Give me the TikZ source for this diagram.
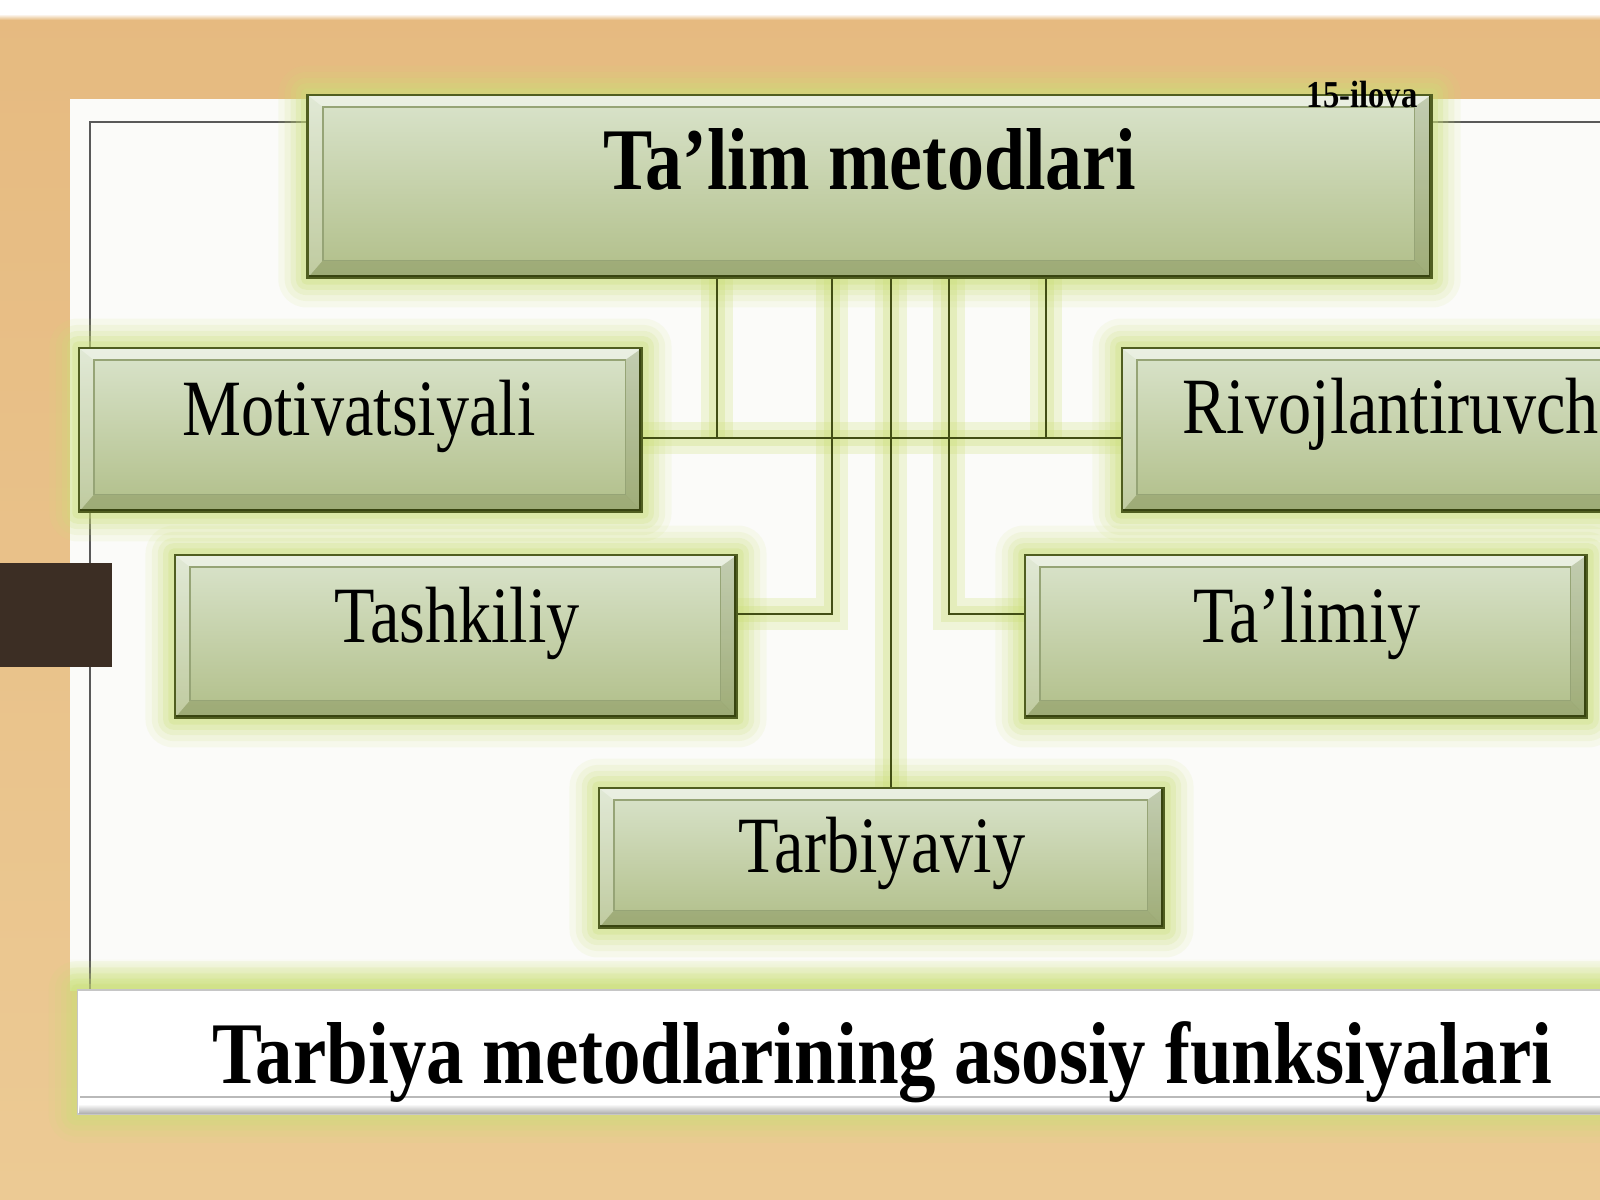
\documentclass[tikz,border=0pt]{standalone}
\usepackage{graphicx}
\usepackage{fontspec}
\setmainfont{Liberation Serif}
\usetikzlibrary{calc}
\pgfdeclarelayer{bgl}
\pgfdeclarelayer{glowl}
\pgfdeclarelayer{linel}
\pgfsetlayers{bgl,glowl,linel,main}
\definecolor{woodA}{RGB}{230,186,128}
\definecolor{woodB}{RGB}{236,202,148}
\definecolor{glowc}{RGB}{204,224,120}
\definecolor{boxtop}{RGB}{218,228,204}
\definecolor{boxbot}{RGB}{176,190,136}
\definecolor{boxedge}{RGB}{80,94,32}
\definecolor{boxdark}{RGB}{56,68,16}
\definecolor{conncol}{RGB}{66,78,20}
\definecolor{bevelc}{RGB}{150,164,118}
\definecolor{brownblk}{RGB}{60,46,36}
\definecolor{panelc}{RGB}{251,251,249}
\newcommand\myglow[1]{%
  \foreach \dd/\oo in {8/0.1,6.2/0.13,4.5/0.17,3/0.22,1.5/0.28}{%
    \fill[glowc, opacity=\oo, rounded corners=\dd pt]
      ([shift={(-\dd pt,-\dd pt)}]#1.south west) rectangle ([shift={(\dd pt,\dd pt)}]#1.north east);}}
\tikzset{
  bevelpic/.style={path picture={
    \coordinate (pNW) at (path picture bounding box.north west);
    \coordinate (pSE) at (path picture bounding box.south east);
    \coordinate (pNE) at (path picture bounding box.north east);
    \coordinate (pSW) at (path picture bounding box.south west);
    \coordinate (iNW) at ([shift={(4.3pt,-3.4pt)}]pNW);
    \coordinate (iNE) at ([shift={(-4.8pt,-3.4pt)}]pNE);
    \coordinate (iSE) at ([shift={(-4.8pt,5pt)}]pSE);
    \coordinate (iSW) at ([shift={(4.3pt,5pt)}]pSW);
    \fill[white,opacity=0.45] (pNW) -- (pNE) -- (iNE) -- (iNW) -- cycle;
    \fill[white,opacity=0.2] (pNW) -- (iNW) -- (iSW) -- (pSW) -- cycle;
    \fill[boxdark,opacity=0.16] (pSW) -- (iSW) -- (iSE) -- (pSE) -- cycle;
    \fill[boxdark,opacity=0.14] (pNE) -- (pSE) -- (iSE) -- (iNE) -- cycle;
    \draw[bevelc, line width=0.4pt] (iNW) rectangle (iSE);
    \draw[boxdark, line width=1.6pt] (pNE) -- (pSE) -- (pSW);
  }},
  mbox/.style={shade, top color=boxtop, bottom color=boxbot, draw=boxedge,
    line width=0.7pt, inner sep=0pt, bevelpic},
  txt/.style={inner sep=0pt, font=\fontsize{22.7}{26}\selectfont},
  btxt/.style={inner sep=0pt, font=\fontsize{25}{29}\selectfont\bfseries},
  conn/.style={draw=conncol, line width=0.55pt},
  connglow/.style={draw=glowc, line width=9pt, opacity=0.25},
  connglowb/.style={draw=glowc, line width=4.5pt, opacity=0.3},
}
\begin{document}
\begin{tikzpicture}[x=0.01cm,y=-0.01cm]
\path[use as bounding box] (0,0) rectangle (1600,1200);
\clip (0,0) rectangle (1600,1200);
% nodes (boxes)
\node[mbox, minimum width=11.23cm, minimum height=1.83cm] (title) at (869.5,186.5) {};
\node[mbox, minimum width=5.63cm, minimum height=1.64cm] (mot) at (360.5,430) {};
\node[mbox, minimum width=5.63cm, minimum height=1.64cm] (riv) at (1403.5,430) {};
\node[mbox, minimum width=5.62cm, minimum height=1.63cm] (tash) at (456,636.5) {};
\node[mbox, minimum width=5.62cm, minimum height=1.63cm] (tal) at (1306,636.5) {};
\node[mbox, minimum width=5.65cm, minimum height=1.40cm] (tarb) at (881.5,858) {};
% texts
\node[btxt, anchor=base] (titleT) at (869.5,189) {\scalebox{0.84}[1]{Ta’lim metodlari}};
\node[txt, anchor=base] (motT) at (359,435) {\scalebox{0.83}[1]{Motivatsiyali}};
\node[txt, anchor=base west] (rivT) at (1182,433) {\scalebox{0.83}[1]{Rivojlantiruvch}};
\node[txt, anchor=base] (tashT) at (457,642) {\scalebox{0.83}[1]{Tashkiliy}};
\node[txt, anchor=base] (talT) at (1307,642) {\scalebox{0.83}[1]{Ta’limiy}};
\node[txt, anchor=base] (tarbT) at (882,872) {\scalebox{0.83}[1]{Tarbiyaviy}};
\node[inner sep=0pt, anchor=base west, font=\fontsize{10.8}{12}\selectfont\bfseries] (ilova) at (1306,107) {\scalebox{0.86}[1]{15-ilova}};
% junction coordinates
\coordinate (j1) at (717,438);
\coordinate (j2) at (832,614);
\coordinate (j3) at (891,700);
\coordinate (j4) at (949,614);
\coordinate (j5) at (1046,438);
% background layer
\begin{pgfonlayer}{bgl}
\shade[top color=woodA, bottom color=woodB] (0,0) rectangle (1600,1200);
\fill[white] (0,0) rectangle (1600,14);
\shade[top color=white, bottom color=woodA] (0,14) rectangle (1600,20);
\fill[panelc] (70,99) rectangle (1620,990);
\shade[top color=panelc, bottom color=glowc!70] (70,958) rectangle (1620,990);
\draw[gray!70!black, line width=0.35pt] (90,990) -- (90,122) -- (1620,122);
\fill[brownblk] (0,563) rectangle (112,667);
\end{pgfonlayer}
% bottom strip
\begin{pgfonlayer}{glowl}
\node[fill=white, draw=gray!45, line width=0.4pt, minimum width=15.62cm,
      minimum height=1.24cm, inner sep=0pt] (strip) at (859,1052) {};
\myglow{strip}
\end{pgfonlayer}
\begin{pgfonlayer}{linel}
\node[fill=white, draw=gray!45, line width=0.4pt, minimum width=15.62cm,
      minimum height=1.24cm, inner sep=0pt] (stripB) at (859,1052) {};
\draw[gray!55, line width=0.5pt] (80,1097) -- (1620,1097);
\shade[top color=white, bottom color=gray!60] (79,1104) rectangle (1620,1113);
\end{pgfonlayer}
\node[btxt, anchor=base] (stripT) at (882.5,1083) {\scalebox{0.852}[1]{Tarbiya metodlarining asosiy funksiyalari}};
% glows
\begin{pgfonlayer}{glowl}
\myglow{title}\myglow{mot}\myglow{riv}\myglow{tash}\myglow{tal}\myglow{tarb}
\foreach \st in {connglow,connglowb}{
  \draw[\st] (title.south -| j1) -- (j1);
  \draw[\st] (title.south -| j5) -- (j5);
  \draw[\st] (mot.east |- j1) -- (riv.west |- j1);
  \draw[\st] (title.south -| j2) -- (j2) -- (tash.east |- j2);
  \draw[\st] (title.south -| j4) -- (j4) -- (tal.west |- j4);
  \draw[\st] (title.south -| j3) -- (tarb.north -| j3);
}
\end{pgfonlayer}
% connectors
\begin{pgfonlayer}{linel}
\draw[conn] (title.south -| j1) -- (j1);
\draw[conn] (title.south -| j5) -- (j5);
\draw[conn] (mot.east |- j1) -- (riv.west |- j1);
\draw[conn] (title.south -| j2) -- (j2) -- (tash.east |- j2);
\draw[conn] (title.south -| j4) -- (j4) -- (tal.west |- j4);
\draw[conn] (title.south -| j3) -- (tarb.north -| j3);
\end{pgfonlayer}
\end{tikzpicture}
\end{document}
